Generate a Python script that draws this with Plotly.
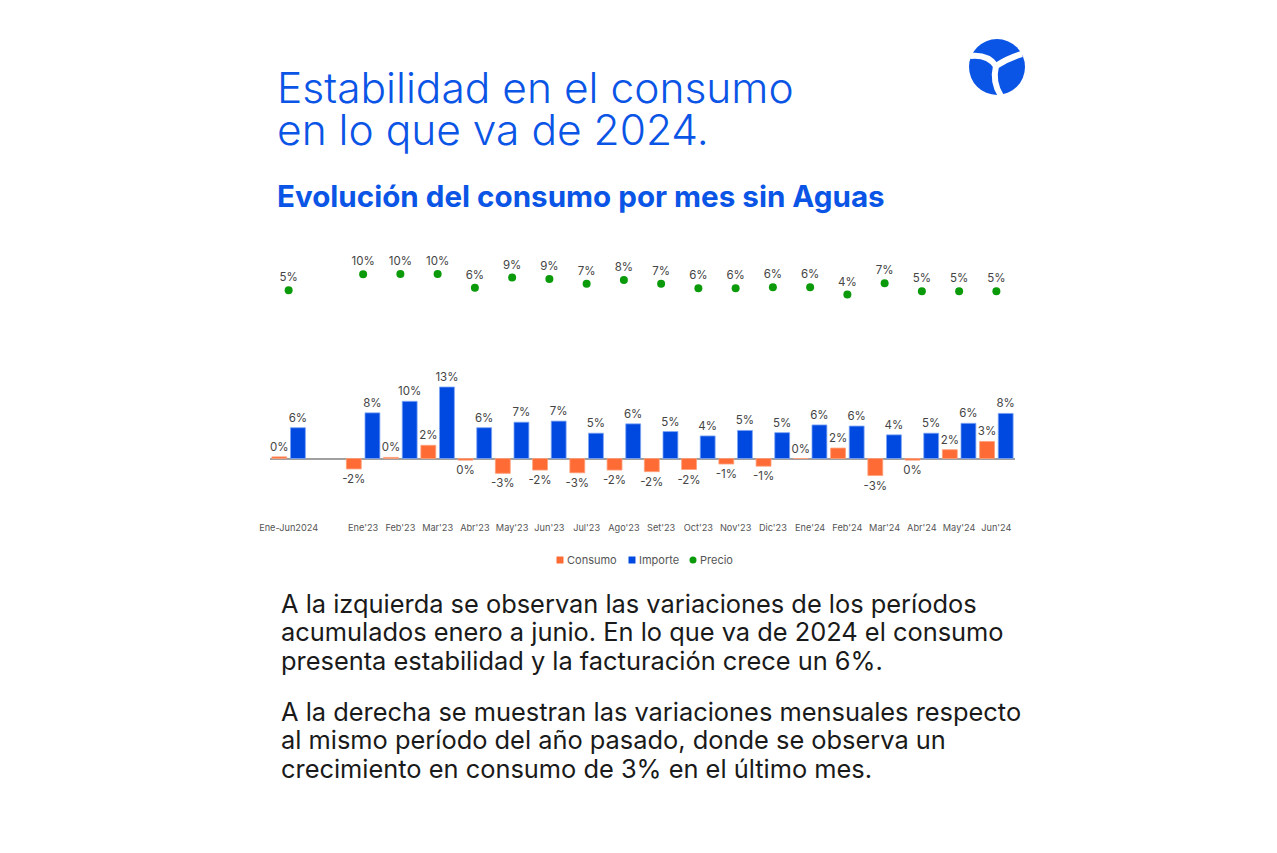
import plotly.graph_objects as go

categories = ["Ene-Jun2024", " ", "Ene'23", "Feb'23", "Mar'23", "Abr'23", "May'23", "Jun'23",
              "Jul'23", "Ago'23", "Set'23", "Oct'23", "Nov'23", "Dic'23", "Ene'24", "Feb'24",
              "Mar'24", "Abr'24", "May'24", "Jun'24"]
consumo = [0.3, None, -1.9, 0.2, 2.4, -0.3, -2.7, -2.1, -2.6, -2.1, -2.4, -2.0, -1.0, -1.4,
           0.0, 1.9, -3.1, -0.3, 1.6, 3.1]
importe = [5.6, None, 8.3, 10.4, 13.0, 5.6, 6.6, 6.8, 4.6, 6.3, 4.9, 4.1, 5.1, 4.7,
           6.1, 5.9, 4.3, 4.6, 6.4, 8.2]
precio = [5.2, None, 10.0, 10.1, 10.1, 5.9, 9.0, 8.6, 7.1, 8.3, 7.1, 5.8, 5.8, 6.1,
          6.1, 3.9, 7.3, 4.9, 4.9, 4.9]
series_names = ["Consumo", "Importe", "Precio"]


def pct(vals):
    return ["" if v is None else f"{int(round(v))}%" for v in vals]


ORANGE = "#FF6B35"
BLUE = "#0049E0"
GREEN = "#0A9A0A"
TITLE_BLUE = "#0B55E6"
LBL = dict(family="Inter, Open Sans, sans-serif", size=11.5, color="#444444")

# page is offset by the 8px body margin
OFF = 8
W, H = 1277 - 2 * OFF, 853 - 2 * OFF
L, R, T, B = 270, 1015, 240, 521   # plot area in page pixels


def px(x):
    return (x - L) / (R - L)


def py(y):
    return (B - y) / (B - T)


fig = go.Figure()
fig.add_trace(go.Bar(x=categories, y=consumo, name=series_names[0], marker_color=ORANGE,
                     marker_line=dict(color="#FFA07A", width=0.8),
                     text=pct(consumo), textposition="outside", cliponaxis=False,
                     constraintext="none", textfont=LBL, yaxis="y"))
fig.add_trace(go.Bar(x=categories, y=importe, name=series_names[1], marker_color=BLUE,
                     marker_line=dict(color="#7FA6F5", width=0.8),
                     text=pct(importe), textposition="outside", cliponaxis=False,
                     constraintext="none", textfont=LBL, yaxis="y"))
fig.add_trace(go.Scatter(x=categories, y=precio, name=series_names[2], mode="markers+text",
                         marker=dict(color=GREEN, size=8), text=pct(precio),
                         textposition="top center", textfont=LBL, cliponaxis=False,
                         yaxis="y2"))

# bars: zero at y=458.5 px, 5.5 px per %; precio: zero at 307.3 px, 3.3 px per %
y1 = [-(B - 458.5) / 5.5, (458.5 - T) / 5.5]
y2 = [-(B - 307.3) / 3.3, (307.3 - T) / 3.3]

annotations = []


def txt(s, x, y, size, color, family="Inter, sans-serif", weight=None):
    f = dict(size=size, color=color, family=family)
    if weight:
        f["weight"] = weight
    annotations.append(dict(text=s, x=px(x), y=py(y), xref="paper", yref="paper",
                            xanchor="left", yanchor="middle", showarrow=False, font=f))


txt("Estabilidad en el consumo", 275, 87, 42.5, TITLE_BLUE, weight=300)
txt("en lo que va de 2024.", 275, 130, 42.5, TITLE_BLUE, weight=300)
txt("Evolución del consumo por mes sin Aguas", 275, 196, 29.6, TITLE_BLUE, weight=700)

body1 = ["A la izquierda se observan las variaciones de los períodos",
         "acumulados enero a junio. En lo que va de 2024 el consumo",
         "presenta estabilidad y la facturación crece un 6%."]
body2 = ["A la derecha se muestran las variaciones mensuales respecto",
         "al mismo período del año pasado, donde se observa un",
         "crecimiento en consumo de 3% en el último mes."]
for i, s in enumerate(body1):
    txt(s, 279, 603 + i * 28.6, 25.4, "#1a1a1a")
for i, s in enumerate(body2):
    txt(s, 279, 711 + i * 28.6, 25.4, "#1a1a1a")

shapes = [
    dict(type="circle", xref="paper", yref="paper", x0=px(969), x1=px(1025), y0=py(95), y1=py(39),
         fillcolor="#0B55E6", line=dict(width=0)),
]
for (a, c, b) in [((970, 56), (988, 54), (996, 66)), ((996, 66), (1008, 58), (1022, 54)),
                  ((996, 66), (992, 82), (1001, 96))]:
    path = f"M {px(a[0])},{py(a[1])} Q {px(c[0])},{py(c[1])} {px(b[0])},{py(b[1])}"
    shapes.append(dict(type="path", xref="paper", yref="paper", path=path,
                       line=dict(color="white", width=6)))

# compact legend (symbol + label), as in the reference
leg_y = 560
for name, color, sx, kind in [(series_names[0], ORANGE, 560, "rect"),
                              (series_names[1], BLUE, 632, "rect"),
                              (series_names[2], GREEN, 693, "circle")]:
    shapes.append(dict(type=kind, xref="paper", yref="paper",
                       x0=px(sx - 3.5), x1=px(sx + 3.5), y0=py(leg_y + 3.5), y1=py(leg_y - 3.5),
                       fillcolor=color, line=dict(width=0)))
    txt(name, sx + 5, leg_y, 11, "#555555")

fig.update_layout(
    width=W, height=H,
    margin=dict(l=L - OFF, r=W - (R - OFF), t=T - OFF, b=H - (B - OFF), pad=0),
    paper_bgcolor="white", plot_bgcolor="white",
    barmode="group", bargap=0.0, bargroupgap=0.2,
    showlegend=False,
    xaxis=dict(type="category", categoryorder="array", categoryarray=categories,
               range=[-0.5, len(categories) - 0.5],
               showgrid=False, showline=False, ticks="",
               tickfont=dict(family="Inter, sans-serif", size=9.2, color="#555555")),
    yaxis=dict(range=y1, showgrid=False, showticklabels=False, zeroline=True,
               zerolinecolor="#A0A0A0", zerolinewidth=1.5),
    yaxis2=dict(range=y2, overlaying="y", showgrid=False, showticklabels=False, zeroline=False),
    annotations=annotations, shapes=shapes,
)

fig.write_html("out.html")
